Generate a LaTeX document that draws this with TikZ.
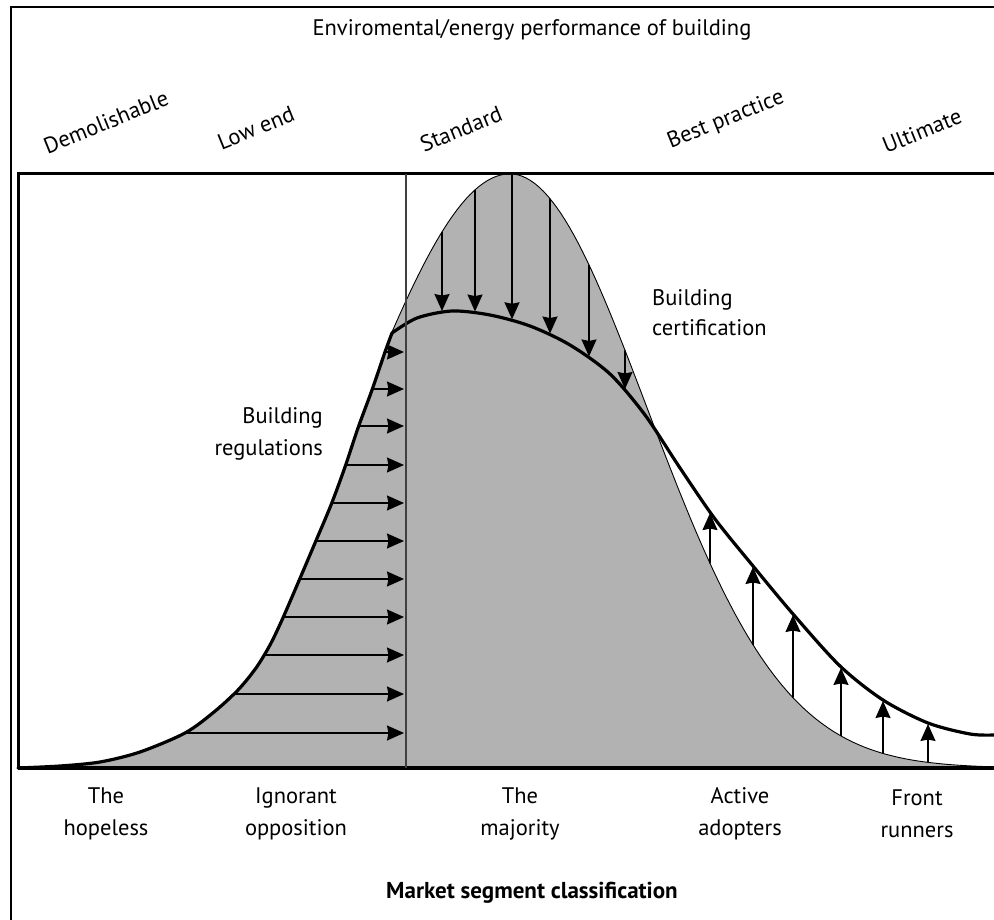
\documentclass[tikz,border=0pt]{standalone}
\usepackage{fontspec}
\setmainfont{PT Sans}
\usetikzlibrary{arrows.meta,intersections}

% normal-like bell of the existing stock (wider on the left flank)
\pgfmathdeclarefunction{bell}{1}{%
  \pgfmathparse{768-594*exp(-0.5*((#1-510)/ifthenelse(#1<510,150,137))*((#1-510)/ifthenelse(#1<510,150,137)))}%
}

\begin{document}
\begin{tikzpicture}[x=1pt,y=-1pt,
  lbl/.style={font=\fontsize{22.5}{32}\selectfont, align=center, inner sep=0pt},
  tier/.style={font=\fontsize{22.5}{26}\selectfont, rotate=22, inner sep=0pt},
  stock/.style={fill=black!30},
  thickcurve/.style={line width=3.2pt, line cap=round, line join=round},
  bellline/.style={line width=0.9pt},
  push/.style={line width=1.6pt, shorten >=1pt,
    -{Stealth[length=17pt,width=15pt,inset=1.5pt]}},
]
\useasboundingbox (0,0) rectangle (994,920);

% shaded stock: rising flank, then the bell down to the axis
\fill[stock] plot[smooth] coordinates {(18,768) (60,766) (100,762) (140,752)
    (185,733) (214,712) (238,690) (256,668) (270,645) (282,620) (298,583)
    (315,543) (331,505) (345,467) (358,428) (372,390) (385,352) (392,333)}
  -- plot[domain=392:994, samples=140] (\x,{bell(\x)})
  -- (994,768) -- cycle;

% outline of the bell
\draw[bellline] plot[domain=392:994, samples=140] (\x,{bell(\x)});

% shifted distribution
\draw[thickcurve, name path=riseL] plot[smooth] coordinates {(18,768) (60,766)
    (100,762) (140,752) (185,733) (214,712) (238,690) (256,668) (270,645)
    (282,620) (298,583) (315,543) (331,505) (345,467) (358,428) (372,390)
    (385,352) (392,333)};
\draw[thickcurve, name path=riseR] plot[smooth] coordinates {(392,333) (417,318)
    (452,311) (490,315) (530,326) (570,345) (610,374) (645,415) (680,468)
    (715,519) (753,566) (793,614) (840,666) (883,700) (928,723) (970,734)
    (994,735)};

% frames
\draw[line width=2.5pt] (11,920) -- (11,7) -- (994,7);
\draw[line width=3pt] (18,768) -- (18,174) -- (994,174);
\draw[line width=4.5pt] (18,768) -- (994,768);
\draw[line width=1.5pt, black!75] (406,174) -- (406,768);

% building regulations push the low end up to the standard
\foreach \yy [count=\i] in {352,389,426,465,503,541,579,617,655,694,733} {
  \path[name path=hline] (18,\yy) -- (406,\yy);
  \path[name intersections={of=hline and riseL, by={r\i}}];
  \coordinate (rv\i) at (405,\yy);
  \draw[push] (r\i) -- (rv\i);
}

% building certification pulls the bell down
\foreach \xx [count=\i] in {442,475,512,550,589,625} {
  \path[name path=vline] (\xx,170) -- (\xx,770);
  \path[name intersections={of=vline and riseR, by={d\i}}];
  \coordinate (b\i) at (\xx,{bell(\xx)});
  \draw[push] (b\i) -- (d\i);
}

% active adopters raise the tail
\foreach \xx [count=\i] in {710,753,793,841,883,928} {
  \path[name path=vline] (\xx,170) -- (\xx,770);
  \path[name intersections={of=vline and riseR, by={u\i}}];
  \coordinate (a\i) at (\xx,{bell(\xx)});
  \draw[push] (a\i) -- (u\i);
}

% labels
\node[lbl] (title) at (532,30) {Enviromental/energy performance of building};
\node[tier] (t1) at (106,122) {Demolishable};
\node[tier] (t2) at (256,128) {Low end};
\node[tier] (t3) at (461,129) {Standard};
\node[tier] (t4) at (726,120) {Best practice};
\node[tier] (t5) at (922,131) {Ultimate};

\node[lbl, align=left, anchor=west, font=\fontsize{22.5}{30}\selectfont]
  (cert) at (652,313) {Building\\certification};
\node[lbl, align=right, anchor=east, font=\fontsize{22.5}{32}\selectfont]
  (regs) at (323,434) {Building\\regulations};

\node[lbl] (s1) at (106,814) {The\\hopeless};
\node[lbl] (s2) at (296,814) {Ignorant\\opposition};
\node[lbl] (s3) at (520,814) {The\\majority};
\node[lbl] (s4) at (740,814) {Active\\adopters};
\node[lbl] (s5) at (917,814) {Front\\runners};

\node[lbl, font=\fontsize{23}{26}\selectfont\bfseries] (axis) at (532,893)
  {Market segment classification};
\end{tikzpicture}
\end{document}
